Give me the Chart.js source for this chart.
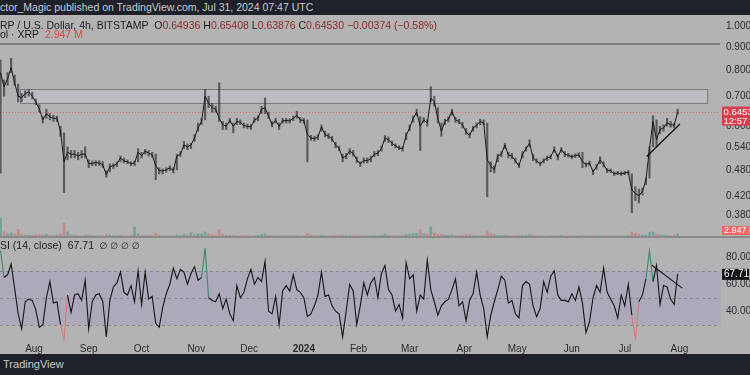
<!DOCTYPE html>
<html>
<head>
<meta charset="utf-8">
<script src="https://cdn.jsdelivr.net/npm/chart.js@4.4.1/dist/chart.umd.min.js"></script>
<style>
body{margin:0;width:750px;height:375px;overflow:hidden;background:#b3b3b3;font-family:"Liberation Sans",Arial,sans-serif;position:relative}
#top{position:absolute;left:0;top:0;width:750px;height:15px;background:#1e212a;color:#c9cbd0;font-size:10.5px;line-height:15px;white-space:nowrap}
#bot{position:absolute;left:0;top:354px;width:750px;height:21px;background:#1e212a;color:#c9cbd0;font-size:11px;line-height:21px;white-space:nowrap}
.lg{position:absolute;left:0;font-size:10.5px;white-space:nowrap;color:#1c1e24}
.lg .r{color:#8e2b2b}
#sep{position:absolute;left:0;top:236px;width:750px;height:1.5px;background:#8a8a8a}
#c1{position:absolute;left:0;top:15px}
#c2{position:absolute;left:0;top:237px}
</style>
</head>
<body>
<div id="top">ctor_Magic published on TradingView.com, Jul 31, 2024 07:47 UTC</div>
<canvas id="c1" width="750" height="222"></canvas>
<canvas id="c2" width="750" height="117"></canvas>
<div id="sep"></div>
<div class="lg" style="top:19px">RP / U.S. Dollar, 4h, BITSTAMP&nbsp; O<span class="r">0.64936</span> H<span class="r">0.65408</span> L<span class="r">0.63876</span> C<span class="r">0.64530</span> <span class="r">−0.00374 (−0.58%)</span></div>
<div class="lg" style="top:28px">ol · XRP&nbsp; <span style="color:#e04848">2.947 M</span></div>
<div class="lg" style="top:239px">SI (14, close)&nbsp; 67.71&nbsp; <span style="font-family:'DejaVu Sans';font-size:9px">∅ ∅ ∅ ∅</span></div>
<div id="bot">&nbsp;TradingView</div>
<script>
// 4h XRP/USD, every 2 days from 2023-07-13
var stepDays = 2;
var closes = [0.79, 0.735, 0.765, 0.81, 0.75, 0.70, 0.695, 0.71, 0.715, 0.70,
  0.68, 0.655, 0.62, 0.64, 0.63, 0.625, 0.625, 0.585, 0.50, 0.525,
  0.52, 0.52, 0.515, 0.52, 0.52, 0.495, 0.496, 0.498, 0.497, 0.492,
  0.468, 0.488, 0.49, 0.495, 0.51, 0.502, 0.50, 0.495, 0.497, 0.525,
  0.516, 0.528, 0.523, 0.518, 0.49, 0.478, 0.477, 0.48, 0.485, 0.478,
  0.515, 0.52, 0.545, 0.54, 0.545, 0.565, 0.595, 0.615, 0.70, 0.675,
  0.66, 0.655, 0.625, 0.605, 0.60, 0.618, 0.60, 0.615, 0.612, 0.602,
  0.60, 0.598, 0.62, 0.625, 0.655, 0.66, 0.632, 0.605, 0.618, 0.60,
  0.617, 0.618, 0.617, 0.625, 0.635, 0.62, 0.618, 0.575, 0.565, 0.563,
  0.568, 0.598, 0.575, 0.57, 0.562, 0.545, 0.535, 0.51, 0.515, 0.528,
  0.522, 0.505, 0.495, 0.503, 0.503, 0.508, 0.52, 0.523, 0.535, 0.565,
  0.56, 0.55, 0.542, 0.537, 0.535, 0.572, 0.595, 0.625, 0.645, 0.60,
  0.62, 0.61, 0.693, 0.68, 0.625, 0.585, 0.615, 0.622, 0.648, 0.62,
  0.615, 0.603, 0.583, 0.572, 0.595, 0.603, 0.615, 0.61, 0.505, 0.49,
  0.48, 0.515, 0.52, 0.545, 0.518, 0.515, 0.502, 0.49, 0.52, 0.535,
  0.55, 0.51, 0.502, 0.495, 0.503, 0.51, 0.513, 0.533, 0.512, 0.533,
  0.52, 0.517, 0.513, 0.516, 0.518, 0.50, 0.493, 0.497, 0.475, 0.488,
  0.505, 0.493, 0.478, 0.478, 0.47, 0.472, 0.47, 0.472, 0.474, 0.433,
  0.425, 0.42, 0.43, 0.455, 0.535, 0.615, 0.56, 0.59, 0.595, 0.61,
  0.605, 0.603, 0.6453];
var highs = [0.843, 0.76, 0.79, 0.85, 0.78, 0.745, 0.71, 0.72, 0.725, 0.715,
  0.69, 0.67, 0.63, 0.655, 0.64, 0.635, 0.632, 0.60, 0.58, 0.54,
  0.53, 0.53, 0.525, 0.53, 0.54, 0.505, 0.502, 0.503, 0.503, 0.50,
  0.478, 0.495, 0.495, 0.50, 0.515, 0.51, 0.505, 0.50, 0.502, 0.535,
  0.525, 0.533, 0.53, 0.525, 0.52, 0.485, 0.482, 0.485, 0.49, 0.485,
  0.52, 0.527, 0.555, 0.548, 0.55, 0.575, 0.61, 0.625, 0.725, 0.70,
  0.675, 0.665, 0.75, 0.615, 0.61, 0.625, 0.61, 0.625, 0.62, 0.61,
  0.607, 0.605, 0.627, 0.633, 0.665, 0.694, 0.645, 0.615, 0.625, 0.61,
  0.625, 0.625, 0.624, 0.632, 0.648, 0.628, 0.625, 0.62, 0.573, 0.57,
  0.575, 0.604, 0.585, 0.578, 0.57, 0.553, 0.542, 0.52, 0.522, 0.535,
  0.53, 0.513, 0.50, 0.51, 0.51, 0.515, 0.527, 0.53, 0.542, 0.572,
  0.568, 0.556, 0.548, 0.543, 0.54, 0.58, 0.604, 0.632, 0.655, 0.63,
  0.627, 0.62, 0.735, 0.70, 0.66, 0.61, 0.622, 0.63, 0.655, 0.628,
  0.622, 0.612, 0.593, 0.58, 0.60, 0.61, 0.622, 0.62, 0.61, 0.50,
  0.49, 0.52, 0.527, 0.55, 0.525, 0.522, 0.51, 0.497, 0.527, 0.54,
  0.56, 0.52, 0.508, 0.50, 0.508, 0.515, 0.518, 0.54, 0.52, 0.538,
  0.527, 0.522, 0.518, 0.521, 0.524, 0.525, 0.498, 0.502, 0.48, 0.493,
  0.513, 0.50, 0.483, 0.482, 0.475, 0.476, 0.475, 0.476, 0.478, 0.47,
  0.44, 0.435, 0.437, 0.46, 0.54, 0.633, 0.62, 0.60, 0.605, 0.625,
  0.615, 0.61, 0.655];
var lows = [0.472, 0.70, 0.74, 0.79, 0.74, 0.68, 0.68, 0.695, 0.70, 0.69,
  0.67, 0.645, 0.61, 0.625, 0.62, 0.615, 0.615, 0.57, 0.427, 0.505,
  0.51, 0.51, 0.505, 0.51, 0.51, 0.485, 0.49, 0.49, 0.49, 0.485,
  0.462, 0.475, 0.483, 0.488, 0.50, 0.497, 0.495, 0.49, 0.49, 0.50,
  0.51, 0.52, 0.515, 0.512, 0.456, 0.47, 0.47, 0.474, 0.478, 0.472,
  0.48, 0.513, 0.535, 0.532, 0.535, 0.555, 0.585, 0.605, 0.62, 0.66,
  0.645, 0.645, 0.615, 0.59, 0.59, 0.61, 0.58, 0.605, 0.605, 0.595,
  0.593, 0.59, 0.612, 0.617, 0.64, 0.64, 0.625, 0.598, 0.61, 0.59,
  0.61, 0.61, 0.61, 0.617, 0.625, 0.612, 0.61, 0.50, 0.558, 0.556,
  0.56, 0.585, 0.568, 0.563, 0.555, 0.537, 0.53, 0.50, 0.508, 0.52,
  0.515, 0.498, 0.488, 0.497, 0.497, 0.50, 0.513, 0.516, 0.528, 0.555,
  0.552, 0.543, 0.537, 0.532, 0.528, 0.56, 0.586, 0.612, 0.633, 0.53,
  0.612, 0.60, 0.68, 0.665, 0.61, 0.57, 0.605, 0.613, 0.635, 0.612,
  0.608, 0.595, 0.575, 0.565, 0.585, 0.595, 0.605, 0.605, 0.418, 0.475,
  0.472, 0.50, 0.513, 0.535, 0.51, 0.508, 0.497, 0.485, 0.51, 0.528,
  0.54, 0.503, 0.497, 0.49, 0.497, 0.503, 0.507, 0.525, 0.505, 0.525,
  0.513, 0.512, 0.508, 0.511, 0.512, 0.485, 0.487, 0.49, 0.468, 0.481,
  0.495, 0.487, 0.473, 0.473, 0.466, 0.468, 0.466, 0.468, 0.469, 0.385,
  0.41, 0.405, 0.422, 0.445, 0.46, 0.54, 0.54, 0.578, 0.585, 0.60,
  0.597, 0.595, 0.639];
var volumes = [150, 40, 25, 30, 22, 60, 20, 15, 14, 12,
  18, 20, 16, 22, 14, 12, 15, 25, 110, 40,
  20, 14, 12, 10, 15, 18, 12, 10, 10, 12,
  22, 16, 12, 10, 14, 10, 12, 15, 80, 25,
  14, 12, 15, 12, 30, 16, 10, 9, 10, 10,
  18, 14, 20, 18, 35, 16, 24, 22, 40, 25,
  18, 16, 60, 22, 15, 12, 14, 10, 10, 12,
  10, 9, 12, 14, 20, 25, 14, 12, 10, 12,
  10, 9, 9, 10, 12, 10, 10, 30, 18, 12,
  10, 14, 12, 10, 12, 14, 12, 18, 12, 10,
  10, 12, 14, 10, 9, 10, 12, 10, 14, 22,
  16, 12, 10, 10, 12, 20, 22, 25, 28, 60,
  25, 22, 80, 30, 20, 22, 15, 14, 18, 12,
  12, 14, 18, 20, 12, 10, 10, 12, 50, 25,
  20, 14, 12, 16, 12, 10, 12, 14, 12, 15,
  18, 14, 10, 10, 9, 9, 10, 12, 10, 12,
  10, 9, 9, 8, 10, 14, 10, 9, 14, 10,
  12, 10, 9, 9, 10, 8, 8, 9, 12, 40,
  28, 20, 16, 18, 35, 40, 25, 18, 16, 14,
  12, 14, 25];
var rsi = [85, 65, 67, 75, 57, 38, 27, 47, 49, 48,
  41, 28, 30, 50, 62, 46, 47, 30, 19, 52,
  39, 52, 53, 48, 63, 27, 47, 52, 53, 47,
  21, 48, 58, 61, 69, 54, 52, 59, 47, 70,
  45, 69, 49, 51, 31, 28, 43, 53, 60, 72,
  64, 71, 69, 60, 68, 73, 63, 65, 87, 50,
  48, 47, 53, 42, 49, 38, 33, 59, 50, 54,
  64, 71, 60, 65, 62, 77, 40, 38, 51, 30,
  55, 59, 55, 67, 56, 54, 50, 36, 38, 44,
  52, 69, 51, 52, 44, 40, 38, 21, 40, 60,
  55, 30, 44, 61, 52, 61, 65, 50, 68, 74,
  56, 52, 40, 45, 35, 76, 64, 67, 40, 52,
  49, 78, 56, 47, 37, 44, 47, 49, 56, 64,
  44, 47, 33, 48, 53, 69, 52, 42, 21, 37,
  47, 56, 66, 63, 46, 48, 38, 35, 59, 62,
  60, 44, 36, 42, 62, 54, 66, 70, 52, 48,
  48, 47, 53, 48, 58, 46, 24, 32, 50, 59,
  54, 72, 54, 49, 44, 35, 52, 44, 60, 37,
  19, 47, 52, 64, 85, 62, 74, 45, 59, 58,
  49, 45, 67.71];

var resistance = 0.915;
var zoneDays = [10.8, 400.5];
var zonePrices = [0.6756, 0.7258];
var trendDays = [366.4, 385.3];
var trendPrices = [0.514, 0.607];
var rsiTrendDays = [369.2, 386.6];
var rsiTrendValues = [74.3, 57.1];

var priceTicks = [0.38, 0.42, 0.48, 0.54, 0.6, 0.7, 0.8, 0.9, 1.0];
var rsiTicks = [40, 60, 80];
var monthDays = [19, 50, 80, 111, 141, 172, 203, 232, 263, 293, 324, 354, 385];
var monthLabels = ['Aug', 'Sep', 'Oct', 'Nov', 'Dec', '2024', 'Feb', 'Mar', 'Apr', 'May', 'Jun', 'Jul', 'Aug'];

var xMin = -0.3, xMax = 408;
var lastClose = closes[closes.length - 1];
var lastRsi = rsi[rsi.length - 1];
var axisFont = {family: '"Liberation Sans", Arial, sans-serif', size: 10};

var closePts = closes.map(function(v, i) { return {x: i * stepDays, y: v}; });
var rangePts = closes.map(function(v, i) { return {x: i * stepDays, y: [lows[i], highs[i]]}; });
var volPts = volumes.map(function(v, i) { return {x: i * stepDays, y: v}; });
var volCols = volumes.map(function(v, i) {
  return (i > 0 && closes[i] < closes[i - 1]) ? 'rgba(205,110,110,0.6)' : 'rgba(70,150,140,0.6)';
});
var rsiPts = rsi.map(function(v, i) { return {x: i * stepDays, y: v}; });

// keep the plot area flush: fixed right axis, no label padding
function fixY(scale) { scale.width = 30; scale.paddingTop = 0; scale.paddingBottom = 0; }
function fixX(scale) { scale.height = 13; scale.paddingLeft = 0; scale.paddingRight = 0; }

var priceDeco = {
  id: 'priceDeco',
  beforeDatasetsDraw: function(chart) {
    var c = chart.ctx, x = chart.scales.x, y = chart.scales.y, a = chart.chartArea;
    var x0 = x.getPixelForValue(zoneDays[0]), x1 = x.getPixelForValue(zoneDays[1]);
    var y0 = y.getPixelForValue(zonePrices[1]), y1 = y.getPixelForValue(zonePrices[0]);
    c.save();
    c.fillStyle = '#bcbdc3';
    c.fillRect(x0, y0, x1 - x0, y1 - y0);
    c.strokeStyle = '#7b7b7b';
    c.lineWidth = 1;
    c.strokeRect(Math.round(x0) + 0.5, Math.round(y0) + 0.5, x1 - x0, y1 - y0);
    var yl = Math.round(y.getPixelForValue(lastClose)) + 0.5;
    c.strokeStyle = '#cf6b6b';
    c.setLineDash([1, 2]);
    c.beginPath(); c.moveTo(a.left, yl); c.lineTo(a.right, yl); c.stroke();
    c.restore();
  },
  afterDraw: function(chart) {
    var c = chart.ctx, y = chart.scales.y, a = chart.chartArea;
    var yl = y.getPixelForValue(lastClose);
    c.save();
    c.fillStyle = '#dc3c4b';
    c.fillRect(722, yl - 5.5, 30, 19);
    c.fillStyle = '#ffffff';
    c.font = '9.5px "Liberation Sans", Arial, sans-serif';
    c.textBaseline = 'middle';
    c.fillText(lastClose.toFixed(4), 723.5, yl + 0.5);
    c.fillText('12:57', 723.5, yl + 9);
    c.fillStyle = '#ef6868';
    c.fillRect(722, a.bottom - 11, 30, 9);
    c.fillStyle = '#ffffff';
    c.font = '9px "Liberation Sans", Arial, sans-serif';
    c.fillText('2.947 M', 724, a.bottom - 6.5);
    c.restore();
  }
};

new Chart(document.getElementById('c1'), {
  type: 'line',
  data: {
    datasets: [
      {type: 'bar', data: volPts, yAxisID: 'yv', backgroundColor: volCols, barThickness: 2, grouped: false, order: 5},
      {type: 'bar', data: rangePts, yAxisID: 'y', backgroundColor: 'rgba(50,54,58,0.7)', barThickness: 1.5, grouped: false, order: 3},
      {data: closePts, borderColor: '#17191c', borderWidth: 1, pointRadius: 0, tension: 0, order: 2},
      {data: [{x: xMin, y: resistance}, {x: xMax + 1, y: resistance}], borderColor: '#4a4a4a', borderWidth: 1.2, pointRadius: 0, order: 1},
      {data: trendDays.map(function(d, i) { return {x: d, y: trendPrices[i]}; }), borderColor: '#111', borderWidth: 1.3, pointRadius: 0, order: 1}
    ]
  },
  options: {
    responsive: false,
    animation: false,
    layout: {padding: 0},
    plugins: {legend: {display: false}, tooltip: {enabled: false}},
    scales: {
      x: {type: 'linear', min: xMin, max: xMax, offset: false, display: false},
      y: {
        type: 'logarithmic', position: 'right', min: 0.3424, max: 1.0617,
        grid: {display: false, drawTicks: false}, border: {display: false},
        afterBuildTicks: function(s) { s.ticks = priceTicks.map(function(v) { return {value: v}; }); },
        afterFit: fixY,
        ticks: {color: '#2a2c30', font: axisFont, padding: 6, callback: function(v) { return Number(v).toFixed(4); }}
      },
      yv: {display: false, min: 0, max: 1750}
    }
  },
  plugins: [priceDeco]
});

var rsiDeco = {
  id: 'rsiDeco',
  beforeDatasetsDraw: function(chart) {
    var c = chart.ctx, y = chart.scales.y, a = chart.chartArea;
    var y70 = y.getPixelForValue(70), y30 = y.getPixelForValue(30), y50 = y.getPixelForValue(50);
    c.save();
    c.fillStyle = '#ada9ba';
    c.fillRect(a.left, y70, a.right - a.left + 1, y30 - y70);
    c.strokeStyle = '#878787';
    c.lineWidth = 1;
    c.setLineDash([3, 3]);
    [y70, y50, y30].forEach(function(p) {
      p = Math.round(p) + 0.5;
      c.beginPath(); c.moveTo(a.left, p); c.lineTo(a.right, p); c.stroke();
    });
    c.restore();
  },
  afterDraw: function(chart) {
    var c = chart.ctx, y = chart.scales.y;
    var yl = y.getPixelForValue(lastRsi);
    c.save();
    c.fillStyle = '#121314';
    c.fillRect(722, yl - 5, 27, 11);
    c.fillStyle = '#ffffff';
    c.font = '10px "Liberation Sans", Arial, sans-serif';
    c.textBaseline = 'middle';
    c.fillText(lastRsi.toFixed(2), 724, yl + 0.5);
    c.restore();
  }
};

new Chart(document.getElementById('c2'), {
  type: 'line',
  data: {
    datasets: [
      {data: rsiPts, borderWidth: 1.1, pointRadius: 0, tension: 0, borderColor: '#141517',
        segment: {borderColor: function(ctx) {
          var a = ctx.p0.parsed.y, b = ctx.p1.parsed.y;
          if (a > 80 || b > 80) return '#3f8a66';
          if (a < 20 || b < 20) return '#d47c7c';
          return '#141517';
        }}},
      {data: rsiTrendDays.map(function(d, i) { return {x: d, y: rsiTrendValues[i]}; }), borderColor: '#111', borderWidth: 1.1, pointRadius: 0}
    ]
  },
  options: {
    responsive: false,
    animation: false,
    layout: {padding: {top: 1}},
    plugins: {legend: {display: false}, tooltip: {enabled: false}},
    scales: {
      x: {
        type: 'linear', min: xMin, max: xMax, offset: false,
        grid: {display: false, drawTicks: false}, border: {display: false},
        afterBuildTicks: function(s) { s.ticks = monthDays.map(function(v) { return {value: v}; }); },
        afterFit: fixX,
        ticks: {
          color: '#2a2c30', padding: 2, autoSkip: false, maxRotation: 0,
          font: function(ctx) {
            return (ctx.tick && ctx.tick.value === 172) ? {family: axisFont.family, size: 10, weight: 'bold'} : axisFont;
          },
          callback: function(v) { return monthLabels[monthDays.indexOf(v)]; }
        }
      },
      y: {
        position: 'right', min: 17.9, max: 94.3,
        grid: {display: false, drawTicks: false}, border: {display: false},
        afterBuildTicks: function(s) { s.ticks = rsiTicks.map(function(v) { return {value: v}; }); },
        afterFit: fixY,
        ticks: {color: '#2a2c30', font: axisFont, padding: 6, callback: function(v) { return Number(v).toFixed(2); }}
      }
    }
  },
  plugins: [rsiDeco]
});
</script>
</body>
</html>
